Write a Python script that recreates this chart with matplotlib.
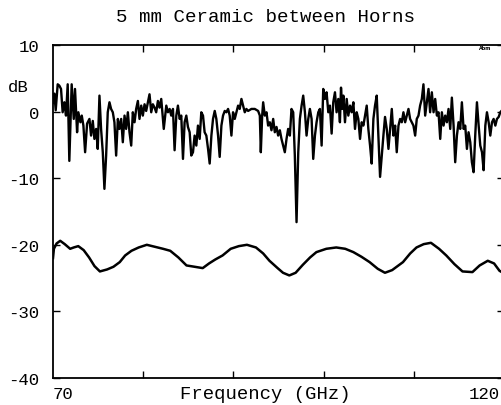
import matplotlib
matplotlib.use("Agg")
import matplotlib.pyplot as plt

# noisy trace: transmission through the ceramic plate
freq_a = [
    70.00, 70.15, 70.30, 70.52, 70.70, 70.89, 71.07, 71.26, 71.44, 71.63,
    71.81, 72.07, 72.30, 72.44, 72.67, 72.81, 73.04, 73.19, 73.37, 73.56,
    73.78, 74.04, 74.22, 74.41, 74.59, 74.78, 74.96, 75.15, 75.33, 75.52,
    75.70, 75.89, 76.07, 76.26, 76.44, 76.63, 76.81, 77.00, 77.19, 77.37,
    77.56, 77.74, 77.93, 78.11, 78.30, 78.48, 78.67, 78.85, 79.04, 79.22,
    79.41, 79.59, 79.78, 79.96, 80.15, 80.33, 80.52, 80.70, 80.89, 81.07,
    81.26, 81.44, 81.63, 81.81, 82.00, 82.28, 82.56, 82.74, 82.93, 83.11,
    83.30, 83.48, 83.67, 83.85, 84.04, 84.22, 84.41, 84.59, 84.78, 84.96,
    85.15, 85.33, 85.52, 85.70, 85.89, 86.07, 86.26, 86.44, 86.63, 86.81,
    87.00, 87.19, 87.37, 87.56, 87.74, 87.93, 88.11, 88.30, 88.48, 88.67,
    88.85, 89.04, 89.22, 89.41, 89.59, 89.78, 89.96, 90.15, 90.33, 90.52,
    90.70, 90.89, 91.07, 91.26, 91.44, 91.63, 92.00, 92.37, 92.74, 92.93,
    93.04, 93.19, 93.30, 93.48, 93.67, 93.85, 94.04, 94.22, 94.41, 94.59,
    94.78, 94.96, 95.15, 95.33, 95.52, 95.70, 95.89, 96.07, 96.26, 96.44,
    96.63, 96.81, 97.00, 97.19, 97.37, 97.56, 97.74, 97.93, 98.11, 98.30,
    98.48, 98.67, 98.85, 99.04, 99.22, 99.41, 99.59, 99.78, 99.96, 100.15,
    100.33, 100.52, 100.70, 100.89, 101.07, 101.26, 101.44, 101.63, 101.81, 101.93,
    102.07, 102.19, 102.37, 102.56, 102.74, 102.93, 103.11, 103.30, 103.48, 103.67,
    103.85, 104.04, 104.22, 104.41, 104.59, 104.78, 104.96, 105.15, 105.33, 105.52,
    105.70, 105.89, 106.07, 106.26, 106.63, 106.81, 107.00, 107.19, 107.37, 107.56,
    107.74, 107.93, 108.11, 108.30, 108.48, 108.67, 108.85, 109.04, 109.22, 109.41,
    109.59, 109.78, 109.96, 110.15, 110.33, 110.52, 110.70, 110.89, 111.07, 111.26,
    111.44, 111.63, 111.81, 112.00, 112.19, 112.37, 112.56, 112.74, 112.93, 113.11,
    113.30, 113.48, 113.67, 113.85, 114.04, 114.22, 114.41, 114.59, 114.78, 114.96,
    115.15, 115.33, 115.52, 115.70, 115.89, 116.07, 116.26, 116.44, 116.63, 116.81,
    117.00, 117.19, 117.37, 117.56, 117.74, 117.93, 118.11, 118.30, 118.48, 118.67,
    118.85, 119.04, 119.22, 119.41, 119.59, 119.78, 120.00,
]
db_a = [
    1.3, 2.7, 0.2, 4.1, 3.9, 3.4, -0.1, 1.4, -0.6, 4.1,
    -7.4, 4.1, -1.1, 3.4, -3.1, -0.1, -1.6, -0.6, -2.1, -6.1,
    -1.8, -1.1, -3.6, -1.4, -4.1, -2.6, -5.6, 2.4, -2.6, -6.1,
    -11.6, -6.6, -0.1, 1.4, 0.4, -0.1, -1.6, -6.6, -1.1, -2.6,
    -1.1, -4.6, -0.6, -2.6, -0.1, -3.1, -5.1, -0.1, -1.6, 0.4,
    1.6, -1.1, 0.9, -0.6, 1.1, 0.1, 1.4, 2.6, -0.1, 1.1,
    0.6, -0.1, 1.6, 0.6, 1.9, -2.6, 0.9, -0.1, 0.4, -0.6,
    0.4, -5.8, -0.6, 0.9, -1.1, -0.6, -7.1, -1.6, -0.6, -2.3,
    -3.1, -6.6, -6.1, -3.6, -5.1, -2.1, -4.1, -0.1, -0.6, -3.1,
    -3.6, -5.6, -7.8, -3.6, -1.1, 0.1, -1.1, -3.6, -6.8, -2.1,
    -0.6, 0.1, -0.1, 0.4, -0.6, -3.6, -0.1, -1.1, -0.1, 0.9,
    0.4, 1.9, 0.9, -0.1, 0.4, 0.1, 0.4, 0.4, 0.1, -0.6,
    -6.1, -0.6, 1.4, -0.6, -0.1, -2.1, -1.6, -2.8, -1.1, -3.1,
    -2.3, -3.6, -2.8, -4.1, -5.1, -6.1, -4.1, -2.6, -3.6, 0.4,
    -0.1, -6.6, -16.6, -6.1, -1.1, 0.9, 2.4, -0.1, -3.6, -1.1,
    0.4, -1.1, -7.1, -3.6, -1.6, -0.1, 0.4, -5.1, 3.4, 1.9,
    2.9, -0.1, 0.9, -3.3, 1.4, 2.9, -0.1, 1.9, -1.6, 3.6,
    0.4, 2.4, -1.6, 1.9, -0.6, 0.9, -0.1, 1.4, -2.6, -0.1,
    -1.1, -4.1, -1.6, -2.1, -0.6, 0.9, -2.6, -5.1, -7.8, -1.1,
    0.9, 2.4, -3.6, -9.8, -3.6, -0.8, -2.6, -5.6, -2.6, 0.4,
    -3.6, -2.1, -6.1, -2.1, -1.1, -1.6, -0.1, -1.6, -0.6, 0.4,
    -1.1, -1.6, -2.1, -3.6, -1.1, -0.6, 0.9, 1.9, 4.1, -0.6,
    1.4, 3.4, -0.1, 2.9, -0.1, 1.9, -0.6, -0.1, -4.1, -0.1,
    -2.1, -0.6, -1.6, 0.4, -2.6, 2.1, -2.1, -7.6, -3.6, -1.6,
    -2.6, 1.4, -2.6, -2.1, -5.6, -3.1, -4.6, -7.6, -9.1, -3.6,
    1.4, -2.1, -5.1, -6.1, -8.8, -2.1, -0.1, -1.6, -3.6, -1.6,
    -1.1, -2.1, -1.1, -0.8, -0.1, 0.2, 0.3,
]

# smooth trace around -22 dB
freq_b = [
    70.0, 70.1, 70.4, 70.8, 71.3, 71.9, 72.3, 72.8, 73.4, 74.0,
    74.6, 75.2, 76.0, 76.7, 77.4, 78.0, 78.7, 79.5, 80.4, 81.3,
    82.2, 83.0, 83.9, 84.8, 85.7, 86.6, 87.3, 88.0, 88.8, 89.7,
    90.6, 91.5, 92.5, 93.3, 94.0, 94.9, 95.5, 96.2, 96.9, 97.7,
    98.5, 99.2, 100.3, 101.4, 102.4, 103.3, 104.2, 105.1, 106.0, 106.8,
    107.6, 108.2, 108.8, 109.6, 110.3, 111.1, 111.9, 112.8, 113.6, 114.5,
    115.4, 116.5, 117.3, 118.2, 118.9, 119.5, 120.0,
]
db_b = [
    -22.0, -20.6, -19.8, -19.4, -19.9, -20.6, -20.4, -20.2, -20.8, -21.9,
    -23.2, -24.0, -23.7, -23.3, -22.6, -21.6, -20.9, -20.4, -20.0, -20.3,
    -20.6, -20.9, -21.9, -23.1, -23.3, -23.5, -22.8, -22.2, -21.6, -20.6,
    -20.2, -20.0, -20.4, -21.3, -22.4, -23.5, -24.2, -24.6, -24.2, -23.0,
    -21.9, -21.1, -20.6, -20.4, -20.6, -21.1, -21.8, -22.6, -23.6, -24.2,
    -23.8, -23.2, -22.6, -21.3, -20.4, -19.9, -19.7, -20.6, -21.6, -22.9,
    -24.0, -24.1, -23.1, -22.4, -22.8, -23.9, -24.3,
]

y_ticks = [10, 0, -10, -20, -30, -40]
y_labels = ["10", "0", "-10", "-20", "-30", "-40"]
x_ticks = [80, 90, 100, 110]

W, H = 501, 406
font = "Liberation Mono"

fig = plt.figure(figsize=(W / 100, H / 100), dpi=100)
ax = fig.add_axes([53 / W, 1 - 379 / H, 451 / W, 333 / H])

ax.plot(freq_a, db_a, color="black", linewidth=1.7)
ax.plot(freq_b, db_b, color="black", linewidth=1.8)

ax.set_xlim(70, 120)
ax.set_ylim(-40, 10)
ax.set_xticks(x_ticks)
ax.set_xticklabels([])
ax.set_yticks(y_ticks)
ax.set_yticklabels(y_labels, fontfamily=font, fontsize=12.5)

ax.tick_params(direction="in", length=5, width=1.0, top=True, right=True, pad=10)
for side in ["left", "bottom", "top", "right"]:
    ax.spines[side].set_linewidth(1.3)

fig.text(265 / W, 1 - 18 / H, "5 mm Ceramic between Horns",
         family=font, fontsize=13.8, ha="center", va="center")
fig.text(8 / W, 1 - 88 / H, "dB", family=font, fontsize=12.5, ha="left", va="center")
fig.text(53 / W, 1 - 395 / H, "70", family=font, fontsize=12.5, ha="left", va="center")
fig.text(500 / W, 1 - 395 / H, "120", family=font, fontsize=12.5, ha="right", va="center")
fig.text(265 / W, 1 - 395 / H, "Frequency (GHz)", family=font, fontsize=13.6,
         ha="center", va="center")
fig.text(485 / W, 1 - 48 / H, "Abm", family="DejaVu Sans", fontsize=3.5,
         fontweight="bold", ha="center", va="center")

fig.savefig("out.png", dpi=100)
